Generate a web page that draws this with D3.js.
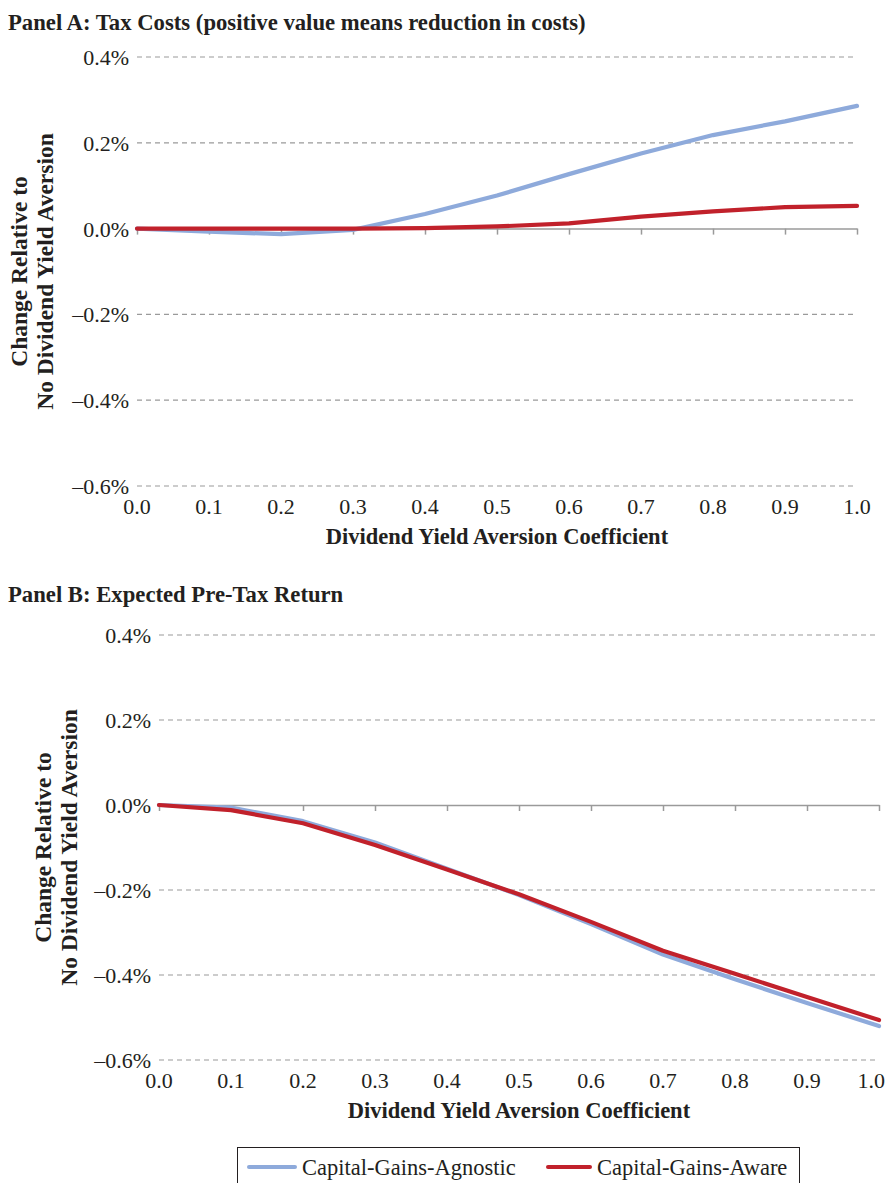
<!DOCTYPE html>
<html>
<head>
<meta charset="utf-8">
<script src="https://cdnjs.cloudflare.com/ajax/libs/d3/7.8.5/d3.min.js"></script>
<style>
  body { margin: 0; background: #fff; }
  svg text { font-family: "Liberation Serif", "Times New Roman", serif; fill: #231f20; }
</style>
</head>
<body>
<div id="chart"></div>
<script>
// x categories (dividend yield aversion coefficient)
var coefficients = [0.0, 0.1, 0.2, 0.3, 0.4, 0.5, 0.6, 0.7, 0.8, 0.9, 1.0];
var xTickLabels = ["0.0", "0.1", "0.2", "0.3", "0.4", "0.5", "0.6", "0.7", "0.8", "0.9", "1.0"];

// y ticks (percent)
var yTicks = [0.4, 0.2, 0.0, -0.2, -0.4, -0.6];
var yTickLabels = ["0.4%", "0.2%", "0.0%", "\u20130.2%", "\u20130.4%", "\u20130.6%"];

// Panel A: tax costs (% change, positive = reduction)
var taxAgnostic = [0, -0.007, -0.013, -0.003, 0.034, 0.077, 0.127, 0.175, 0.218, 0.25, 0.286];
var taxAware    = [0, 0, 0, 0, 0.001, 0.005, 0.012, 0.028, 0.04, 0.05, 0.053];

// Panel B: expected pre-tax return (% change)
var retAgnostic = [0, -0.006, -0.038, -0.088, -0.15, -0.212, -0.28, -0.352, -0.41, -0.466, -0.52];
var retAware    = [0, -0.012, -0.043, -0.094, -0.152, -0.21, -0.275, -0.343, -0.397, -0.452, -0.506];

var seriesNames = ["Capital-Gains-Agnostic", "Capital-Gains-Aware"];
var colors = ["#8eaadb", "#c1212b"];

var W = 887, H = 1183;

var svg = d3.select("#chart").append("svg")
    .attr("width", W)
    .attr("height", H);

function drawPanel(opt) {
    var x = d3.scaleLinear().domain([0, 1]).range([opt.left, opt.right]);
    var y = d3.scaleLinear().domain([-0.6, 0.4]).range([opt.bottom, opt.top]);
    var g = svg.append("g");

    // panel title
    g.append("text")
        .attr("x", 8)
        .attr("y", opt.titleY)
        .style("font-weight", "bold")
        .style("font-size", "22.7px")
        .text(opt.title);

    // dashed gridlines (except zero)
    g.selectAll(".grid")
        .data(yTicks.filter(function(d){ return d !== 0; }))
        .enter().append("line")
        .attr("x1", x(0)).attr("x2", x(1))
        .attr("y1", function(d){ return y(d); })
        .attr("y2", function(d){ return y(d); })
        .attr("stroke", "#9a9a9a")
        .attr("stroke-width", 1.2)
        .attr("stroke-dasharray", "5,4");

    // y tick labels
    g.selectAll(".ylab")
        .data(yTicks)
        .enter().append("text")
        .attr("x", opt.left - 8)
        .attr("y", function(d){ return y(d); })
        .attr("dy", "0.36em")
        .attr("text-anchor", "end")
        .style("font-size", "22px")
        .text(function(d, i){ return yTickLabels[i]; });

    // zero axis with tick marks
    var xAxis = d3.axisBottom(x)
        .tickValues(coefficients)
        .tickSize(6)
        .tickSizeOuter(0)
        .tickFormat("");
    var ax = g.append("g")
        .attr("transform", "translate(0," + y(0) + ")")
        .call(xAxis);
    ax.selectAll("path, line").attr("stroke", "#9a9a9a").attr("stroke-width", 1.5);

    // x tick labels at bottom (kept inside the page)
    g.selectAll(".xlab")
        .data(coefficients)
        .enter().append("text")
        .attr("x", function(d){ return x(d); })
        .attr("y", opt.bottom + 28)
        .attr("text-anchor", "middle")
        .style("font-size", "22px")
        .text(function(d, i){ return xTickLabels[i]; })
        .each(function(d){
            var w = this.getComputedTextLength();
            if (x(d) + w / 2 > W - 2) {
                d3.select(this).attr("x", W - 2 - w / 2);
            }
        });

    // x axis title
    g.append("text")
        .attr("x", (x(0) + x(1)) / 2)
        .attr("y", opt.bottom + 58)
        .attr("text-anchor", "middle")
        .style("font-weight", "bold")
        .style("font-size", "22.5px")
        .text("Dividend Yield Aversion Coefficient");

    // y axis title (two lines)
    var cy = (opt.top + opt.bottom) / 2;
    var yt = g.append("text")
        .attr("transform", "translate(" + opt.yTitleX + "," + cy + ") rotate(-90)")
        .attr("text-anchor", "middle")
        .style("font-weight", "bold")
        .style("font-size", "23.5px");
    yt.append("tspan").attr("x", 0).attr("y", 0).text("Change Relative to");
    yt.append("tspan").attr("x", 0).attr("y", 26).text("No Dividend Yield Aversion");

    // lines
    var line = d3.line()
        .x(function(d, i){ return x(coefficients[i]); })
        .y(function(d){ return y(d); });

    [opt.agnostic, opt.aware].forEach(function(vals, k){
        g.append("path")
            .datum(vals)
            .attr("d", line)
            .attr("fill", "none")
            .attr("stroke", colors[k])
            .attr("stroke-width", 4.2)
            .attr("stroke-linecap", "round")
            .attr("stroke-linejoin", "round");
    });
}

drawPanel({
    title: "Panel A: Tax Costs (positive value means reduction in costs)",
    titleY: 30,
    left: 137, right: 857, top: 57, bottom: 486,
    yTitleX: 27,
    agnostic: taxAgnostic, aware: taxAware
});

drawPanel({
    title: "Panel B: Expected Pre-Tax Return",
    titleY: 602,
    left: 159, right: 879, top: 635, bottom: 1060,
    yTitleX: 51,
    agnostic: retAgnostic, aware: retAware
});

// legend
var legend = svg.append("g");
legend.append("rect")
    .attr("x", 237.5).attr("y", 1147.5)
    .attr("width", 562).attr("height", 50)
    .attr("fill", "none")
    .attr("stroke", "#231f20")
    .attr("stroke-width", 1);

var legendItems = [
    { x1: 249, x2: 295, tx: 302 },
    { x1: 548, x2: 590, tx: 597 }
];
legendItems.forEach(function(it, k){
    legend.append("line")
        .attr("x1", it.x1).attr("x2", it.x2)
        .attr("y1", 1167).attr("y2", 1167)
        .attr("stroke", colors[k])
        .attr("stroke-width", 4)
        .attr("stroke-linecap", "round");
    legend.append("text")
        .attr("x", it.tx)
        .attr("y", 1175)
        .style("font-size", "22.5px")
        .text(seriesNames[k]);
});
</script>
</body>
</html>
